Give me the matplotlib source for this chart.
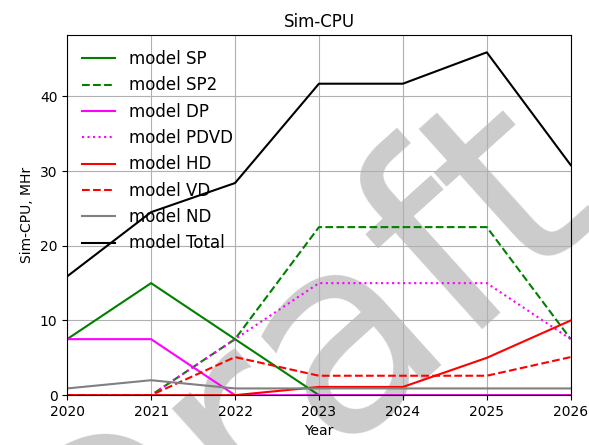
import matplotlib
matplotlib.use('Agg')
from matplotlib import pyplot as plt

# Values
years = [2020, 2021, 2022, 2023, 2024, 2025, 2026]
sp = [7.5, 15.0, 7.5, 0.0, 0.0, 0.0, 0.0]
sp2 = [0.0, 0.0, 7.5, 22.5, 22.5, 22.5, 7.5]
dp = [7.5, 7.5, 0.0, 0.0, 0.0, 0.0, 0.0]
pdvd = [0.0, 0.0, 7.5, 15.0, 15.0, 15.0, 7.5]
hd = [0.0, 0.0, 0.0, 1.1, 1.1, 5.0, 10.0]
vd = [0.0, 0.0, 5.1, 2.6, 2.6, 2.6, 5.1]
nd = [0.9, 2.0, 0.9, 0.9, 0.9, 0.9, 0.9]
total = [15.9, 24.5, 28.4, 41.7, 41.7, 45.9, 30.8]

fig = plt.figure(figsize=(5.89, 4.45), dpi=100)
ax = fig.add_axes([0.114, 0.112, 0.855, 0.809])
ax.patch.set_alpha(0)

# watermark behind the axes content
fig.text(0.501, 0.164, 'Draft', fontsize=196, color='#cccccc', rotation=42,
         ha='center', va='center', zorder=-1)

ax.plot(years, sp, color='green', linestyle='-', label='model SP')
ax.plot(years, sp2, color='green', linestyle='--', label='model SP2')
ax.plot(years, dp, color='magenta', linestyle='-', label='model DP')
ax.plot(years, pdvd, color='magenta', linestyle=':', label='model PDVD')
ax.plot(years, hd, color='red', linestyle='-', label='model HD')
ax.plot(years, vd, color='red', linestyle='--', label='model VD')
ax.plot(years, nd, color='gray', linestyle='-', label='model ND')
ax.plot(years, total, color='black', linestyle='-', label='model Total')

ax.set_xlim(2020, 2026)
ax.set_ylim(0, 48.2)
ax.set_xticks(years)
ax.set_yticks([0, 10, 20, 30, 40])
ax.grid(True)
ax.set_title('Sim-CPU', fontsize=12)
ax.set_xlabel('Year')
ax.set_ylabel('Sim-CPU, MHr')
ax.legend(loc='upper left', frameon=False, fontsize=12)

fig.savefig('out.png', dpi=100)
